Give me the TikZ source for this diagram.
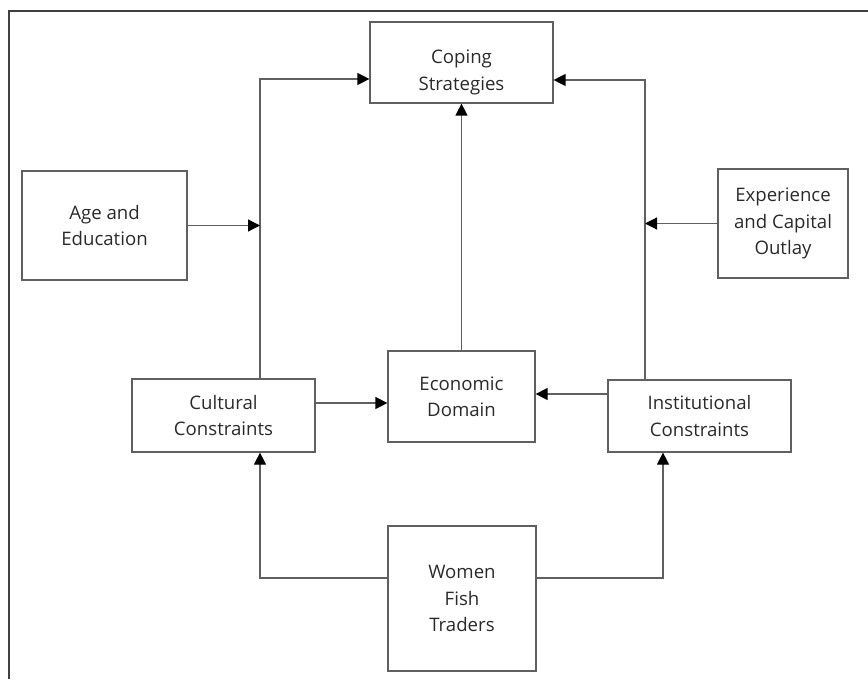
\documentclass[tikz,border=0pt]{standalone}
\usepackage{fontspec}
\setmainfont{Open Sans}
\usetikzlibrary{arrows.meta}
\definecolor{linegray}{HTML}{606060}
\definecolor{textgray}{HTML}{2A2A2A}
\tikzset{
box/.style={draw=linegray,line width=0.7pt,align=center,text=textgray,
  font=\fontsize{10.6}{15}\selectfont,inner sep=0pt},
arr/.style={draw=linegray,line width=0.7pt,
  -{Triangle[length=0.24cm,width=0.24cm,color=black]}},
}
\begin{document}
\begin{tikzpicture}[x=0.02cm,y=-0.02cm]
\useasboundingbox (0,0) rectangle (868,679);

%%%% frame
%%%%
\draw[line width=0.8pt,black!75] (868,11) -- (9,11) -- (9,679);

%%%% boxes
%%%%
\node[box,minimum width=3.66cm,minimum height=1.62cm,
  label={[box,draw=none,yshift=-0.2cm]center:Coping\\Strategies}]
  (cope) at(461.5,62.5) {};
\foreach \n/\x/\y/\w/\h/\t in{
age/104.5/225.5/165/109/{Age and\\Education},
exper/783/223.5/130/109/{Experience\\and Capital\\Outlay},
cult/223.5/415.5/183/73/{Cultural\\Constraints},
econ/461.5/396.5/147/91/{Economic\\Domain},
inst/699.5/416/183/72/{Institutional\\Constraints},
women/462/598.5/148/145/{Women\\Fish\\Traders}%
}{
\node[box,minimum width=\w*0.02cm,minimum height=\h*0.02cm](\n) at(\x,\y) {\t};
}

%%%% links
%%%%
\coordinate(cl) at(260,79);
\coordinate(cr) at(645,80);

\draw[arr] (cult.north -| cl) -- (cl) -- (cl -| cope.west);
\draw[arr] (inst.north -| cr) -- (cr) -- (cr -| cope.east);
\draw[arr] (age.east) -- (age.east -| cl);
\draw[arr] (exper.west) -- (exper.west -| cr);
\draw[arr] (econ.north) -- (cope.south);
\draw[arr] ([yshift=0.25cm]cult.east) -- ([yshift=0.25cm]cult.east -| econ.west);
\draw[arr] ([yshift=0.44cm]inst.west) -- ([yshift=0.44cm]inst.west -| econ.east);
\draw[arr] ([yshift=0.41cm]women.west) -| (cult.south -| cl);
\draw[arr] ([yshift=0.41cm]women.east) -| ([xshift=-0.73cm]inst.south);

\end{tikzpicture}
\end{document}
